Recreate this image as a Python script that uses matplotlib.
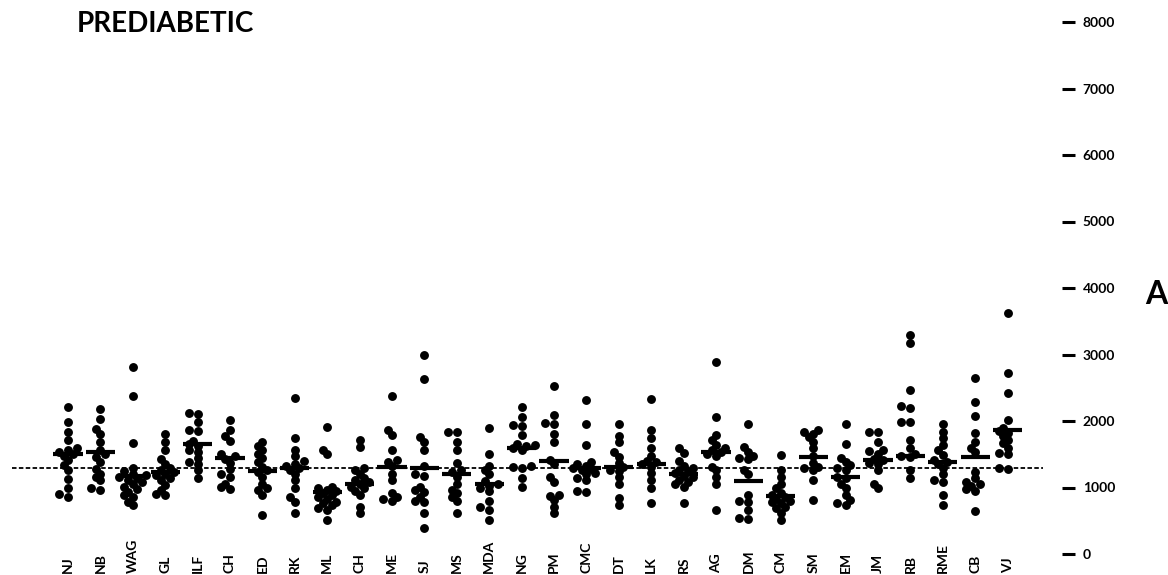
import numpy as np
import matplotlib
matplotlib.use("Agg")
import matplotlib.pyplot as plt

plt.rcParams['font.family'] = ['Lato', 'DejaVu Sans']
plt.rcParams['font.weight'] = 'bold'

# values, one list per subject
nj = [2210, 1985, 1835, 1710, 1600, 1560, 1530, 1510, 1480, 1410, 1335, 1260, 1135, 985, 900, 860]
nb = [2185, 2035, 1885, 1810, 1685, 1560, 1500, 1460, 1385, 1285, 1210, 1160, 1110, 985, 960]
wag = [2810, 2370, 1675, 1300, 1250, 1210, 1190, 1160, 1150, 1120, 1085, 1050, 1010, 980, 935, 880, 860, 785, 735]
gl = [1810, 1685, 1570, 1435, 1360, 1300, 1270, 1235, 1200, 1185, 1150, 1110, 1035, 960, 900, 880]
ilf = [2120, 2100, 1990, 1870, 1850, 1700, 1650, 1620, 1560, 1530, 1440, 1380, 1350, 1260, 1140]
ch1 = [2010, 1870, 1780, 1700, 1500, 1470, 1430, 1370, 1280, 1200, 1160, 1060, 1010, 980]
ed = [1690, 1620, 1560, 1500, 1440, 1380, 1310, 1260, 1230, 1160, 1060, 1000, 960, 890, 585]
rk = [2340, 1740, 1560, 1470, 1400, 1360, 1330, 1300, 1260, 1210, 1110, 985, 860, 780, 620]
ml = [1910, 1560, 1510, 1010, 1000, 960, 940, 910, 880, 860, 830, 785, 760, 735, 690, 660, 510]
ch2 = [1720, 1610, 1300, 1260, 1200, 1150, 1120, 1080, 1060, 1010, 985, 940, 880, 710, 620]
me = [2370, 1870, 1790, 1560, 1420, 1390, 1320, 1210, 1110, 920, 860, 830, 790]
sj = [3000, 2630, 1760, 1690, 1560, 1320, 1200, 1180, 1010, 960, 930, 860, 800, 780, 610, 385]
ms = [1840, 1830, 1690, 1560, 1370, 1260, 1230, 1160, 1060, 960, 910, 860, 790, 610]
mda = [1890, 1510, 1320, 1260, 1210, 1100, 1060, 1030, 985, 940, 790, 700, 660, 510]
ng = [2210, 2060, 1940, 1930, 1790, 1650, 1640, 1620, 1600, 1560, 1320, 1310, 1300, 1140, 1010]
pm = [2530, 2090, 1970, 1950, 1810, 1690, 1420, 1360, 1160, 1090, 890, 870, 810, 710, 610]
cmc = [2320, 1960, 1640, 1380, 1350, 1330, 1300, 1280, 1260, 1220, 1210, 1140, 1110, 940, 930]
dt = [1960, 1780, 1690, 1540, 1460, 1370, 1310, 1270, 1250, 1160, 1050, 840, 740]
lk = [2330, 1860, 1740, 1590, 1470, 1400, 1380, 1350, 1310, 1220, 1110, 990, 760]
rs = [1600, 1520, 1400, 1320, 1300, 1270, 1250, 1220, 1180, 1160, 1120, 1090, 1050, 1010, 760]
ag = [2890, 2060, 1790, 1720, 1640, 1600, 1570, 1540, 1500, 1480, 1310, 1260, 1160, 1060, 660]
dm = [1960, 1610, 1540, 1480, 1450, 1430, 1270, 1200, 885, 800, 780, 660, 540, 530]
cm = [1490, 1260, 1160, 1060, 990, 920, 880, 850, 830, 800, 780, 760, 700, 690, 610, 510]
sm = [1860, 1830, 1810, 1760, 1690, 1590, 1480, 1370, 1310, 1290, 1260, 1110, 810]
em = [1960, 1660, 1440, 1390, 1340, 1300, 1260, 1160, 1150, 1060, 990, 890, 810, 770, 740]
jm = [1840, 1830, 1690, 1570, 1550, 1510, 1430, 1410, 1370, 1360, 1260, 1060, 990]
rb = [3300, 3180, 2470, 2220, 2200, 1990, 1980, 1720, 1600, 1510, 1480, 1460, 1270, 1140]
rme = [1960, 1840, 1740, 1640, 1560, 1490, 1420, 1390, 1360, 1300, 1210, 1120, 1090, 890, 740]
cb = [2650, 2290, 2070, 1820, 1690, 1590, 1530, 1240, 1140, 1080, 1050, 1020, 970, 950, 640]
vj = [3620, 2720, 2420, 2020, 1900, 1850, 1820, 1770, 1720, 1670, 1600, 1520, 1500, 1290, 1280]

subjects = ['NJ', 'NB', 'WAG', 'GL', 'ILF', 'CH', 'ED', 'RK', 'ML', 'CH', 'ME', 'SJ', 'MS',
            'MDA', 'NG', 'PM', 'CMC', 'DT', 'LK', 'RS', 'AG', 'DM', 'CM', 'SM', 'EM', 'JM',
            'RB', 'RME', 'CB', 'VJ']
groups = [nj, nb, wag, gl, ilf, ch1, ed, rk, ml, ch2, me, sj, ms, mda, ng, pm, cmc, dt,
          lk, rs, ag, dm, cm, sm, em, jm, rb, rme, cb, vj]
means = [1510, 1530, 1180, 1230, 1660, 1450, 1250, 1300, 930, 1060, 1310, 1300, 1210,
         1060, 1600, 1400, 1300, 1310, 1360, 1200, 1540, 1100, 870, 1460, 1160, 1410,
         1470, 1385, 1465, 1860]
reference_level = 1300
yticks = list(range(0, 8001, 1000))

W, H = 1168, 575
PX_X = 32.4      # pixels per subject
PX_V = 0.0665    # pixels per unit


def swarm(vals, dot=5.5, step=4.5):
    # simple beeswarm: push overlapping dots sideways, some overlap allowed
    vals = np.asarray(vals, float)
    placed = []
    offs = np.zeros(len(vals))
    for k in np.argsort(vals):
        y = vals[k] * PX_V
        for c in [0, -1, 1, -2, 2, -3, 3, -4, 4]:
            x = c * step
            if all((x - px) ** 2 + (y - py) ** 2 >= dot * dot for px, py in placed):
                break
        placed.append((x, y))
        offs[k] = x / PX_X
    return offs


fig = plt.figure(figsize=(W / 100, H / 100), dpi=100)
ax = fig.add_axes([0, 0, 1062 / W, 1])
ax.set_xlim(-68 / PX_X, (1062 - 68) / PX_X)
ax.set_ylim((554 - 575) / PX_V, 554 / PX_V)

for i, vals in enumerate(groups):
    x = i + swarm(vals)
    ax.plot(x, vals, 'o', color='black', ms=6.4, mew=0, zorder=3)
    ax.plot([i - 0.45, i + 0.45], [means[i], means[i]], color='black', lw=3,
            solid_capstyle='butt', zorder=4)
    ax.text(i, (554 - 573) / PX_V, subjects[i], rotation=90, ha='center', va='bottom',
            fontsize=10, fontweight='bold')

ax.plot([(12 - 68) / PX_X, (1043 - 68) / PX_X], [reference_level] * 2, color='black',
        lw=1.3, dashes=(2.5, 1.3), zorder=2)

ax.yaxis.tick_right()
ax.set_yticks(yticks)
ax.set_yticklabels([str(t) for t in yticks], fontsize=10, fontweight='bold')
ax.tick_params(axis='y', direction='out', length=9.4, width=2.2, pad=5.5, colors='black')
ax.set_xticks([])
for s in ax.spines.values():
    s.set_visible(False)

fig.text(77 / W, 1 - 11 / H, 'PREDIABETIC', fontsize=20, fontweight='bold', va='top', ha='left')
fig.text(1156 / W, 1 - 295 / H, 'A', fontsize=23, fontweight='bold', va='center', ha='center')

fig.savefig('out.png', dpi=100)
